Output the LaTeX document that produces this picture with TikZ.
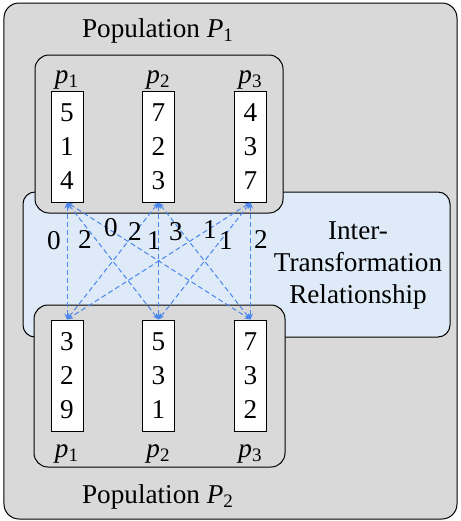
\documentclass[tikz,border=0pt]{standalone}
\usepackage{fontspec}
\setmainfont{Liberation Serif}
\usetikzlibrary{positioning,arrows.meta}
\definecolor{popgray}{RGB}{217,217,217}
\definecolor{relblue}{RGB}{222,234,247}
\definecolor{linkblue}{RGB}{74,134,236}
\tikzset{popbox/.style = {draw,fill=popgray,line width=0.5pt,rounded corners=7pt},
         relbox/.style = {draw,fill=relblue,line width=0.5pt,rounded corners=6pt},
         cell/.style = {draw,fill=white,line width=0.5pt,minimum width=16pt,minimum height=55.5pt,
                        inner sep=0pt,align=center,font=\fontsize{13.6}{17}\selectfont},
         link/.style = {draw=linkblue,line width=0.5pt,dash pattern=on 2.5pt off 1.5pt,
                        {Stealth[length=3pt,width=2.5pt]}-{Stealth[length=3pt,width=2.5pt]}},
         weight/.style = {inner sep=0pt}}

\begin{document}
\begin{tikzpicture}[x=0.5pt,y=-0.5pt,every node/.append style={font=\fontsize{13.6}{16}\selectfont}]
            \useasboundingbox (0,0) rectangle (461,521);
            % populations and relationship
            \draw[popbox,rounded corners=7.5pt] (4,3) rectangle (457,519);
            \draw[relbox] (23,192) rectangle (450,337);
            \draw[popbox] (35,55) rectangle (283,213);
            \draw[popbox] (34,305) rectangle (285,467);

            \node[anchor=base] (P1) at (158,37)  {Population \textit{P}\textsubscript{1}};
            \node[anchor=base] (P2) at (158,503) {Population \textit{P}\textsubscript{2}};
            \node[align=center] (rel) at (358,265) {Inter-\\Transformation\\Relationship};

            % individuals of P1
            \node[cell] (a1) at ( 67,146.5) {5\\1\\4};
            \node[cell] (a2) at (158.5,146.5) {7\\2\\3};
            \node[cell] (a3) at (250.5,146.5) {4\\3\\7};
            \node[anchor=base] (la1) at ( 67,83) {\textit{p}\textsubscript{1}};
            \node[anchor=base] (la2) at (158.5,83) {\textit{p}\textsubscript{2}};
            \node[anchor=base] (la3) at (250.5,83) {\textit{p}\textsubscript{3}};

            % individuals of P2
            \node[cell] (b1) at ( 67,375.5) {3\\2\\9};
            \node[cell] (b2) at (158.5,375.5) {5\\3\\1};
            \node[cell] (b3) at (250.5,375.5) {7\\3\\2};
            \node[anchor=base] (lb1) at ( 67,457) {\textit{p}\textsubscript{1}};
            \node[anchor=base] (lb2) at (158.5,457) {\textit{p}\textsubscript{2}};
            \node[anchor=base] (lb3) at (250.5,457) {\textit{p}\textsubscript{3}};

            % transformation distances
            \draw[link] (a1.south) -- (b1.north) node[weight,pos=0.322,xshift=-6.5pt]  (w11) {0};
            \draw[link] (a1.south) -- (b2.north) node[weight,pos=0.314,xshift=-5.35pt] (w12) {2};
            \draw[link] (a1.south) -- (b3.north) node[weight,pos=0.212,xshift=2.55pt]  (w13) {0};
            \draw[link] (a2.south) -- (b1.north) node[weight,pos=0.246,xshift=-0.5pt]  (w21) {2};
            \draw[link] (a2.south) -- (b2.north) node[weight,pos=0.322,xshift=-2.25pt] (w22) {1};
            \draw[link] (a2.south) -- (b3.north) node[weight,pos=0.246,xshift=-2.55pt] (w23) {3};
            \draw[link] (a3.south) -- (b1.north) node[weight,pos=0.229,xshift=0.75pt]  (w31) {1};
            \draw[link] (a3.south) -- (b2.north) node[weight,pos=0.322,xshift=2.55pt]  (w32) {1};
            \draw[link] (a3.south) -- (b3.north) node[weight,pos=0.314,xshift=5.25pt]  (w33) {2};
        \end{tikzpicture}
\end{document}
